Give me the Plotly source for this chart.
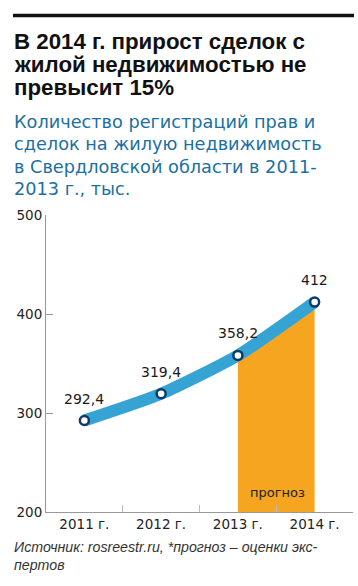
import plotly.graph_objects as go

years = ["2011 г.", "2012 г.", "2013 г.", "2014 г."]
values = [292.4, 319.4, 358.2, 412]
labels = ["292,4", "319,4", "358,2", "412"]
forecast_x = ["2013 г.", "2014 г."]
forecast_y = [358.2, 412]
y_ticks = [200, 300, 400, 500]

title_lines = ["В 2014 г. прирост сделок с", "жилой недвижимостью не", "превысит 15%"]
subtitle_lines = ["Количество регистраций прав и", "сделок на жилую недвижимость",
                  "в Свердловской области в 2011-", "2013 г., тыс."]
footer_lines = ["Источник: rosreestr.ru, *прогноз – оценки экс-", "пертов"]

W, H = 358, 586
ML, MR, MT, MB = 46, 5, 215, 74
PH = H - MT - MB
PW = W - ML - MR

def py(p):
    return (H - MB - p) / PH

def px(p):
    return (p - ML) / PW

FONT = "DejaVu Sans"
FONT2 = "Liberation Sans"

fig = go.Figure()
fig.add_trace(go.Scatter(
    x=forecast_x, y=forecast_y, mode="lines", fill="tozeroy",
    line=dict(width=0, color="#f5a51f"), fillcolor="#f5a51f", hoverinfo="skip"))
fig.add_trace(go.Scatter(
    x=years, y=values, mode="lines+markers",
    line=dict(color="#35a3d4", width=12, shape="spline", smoothing=0.6),
    marker=dict(size=9, color="white", line=dict(color="#0d3b62", width=2.5)),
    cliponaxis=False))

annotations = []
for xv, yv, lab in zip(years, values, labels):
    annotations.append(dict(text=lab, x=xv, y=yv, xref="x", yref="y", yshift=22,
                            xanchor="center", yanchor="middle", showarrow=False,
                            font=dict(family=FONT, size=14, color="#1a1a1a")))
for i, t in enumerate(title_lines):
    annotations.append(dict(text="<b>" + t + "</b>", x=px(12), y=py(41 + 23 * i),
                            xref="paper", yref="paper", xanchor="left", yanchor="middle",
                            showarrow=False, font=dict(family=FONT2, size=22.3, color="#111")))
for i, t in enumerate(subtitle_lines):
    annotations.append(dict(text=t, x=px(12), y=py(122 + 22.3 * i),
                            xref="paper", yref="paper", xanchor="left", yanchor="middle",
                            showarrow=False, font=dict(family=FONT, size=17.7, color="#1b6fa3")))
for i, t in enumerate(footer_lines):
    annotations.append(dict(text="<i>" + t + "</i>", x=px(12), y=py(547 + 18 * i),
                            xref="paper", yref="paper", xanchor="left", yanchor="middle",
                            showarrow=False, font=dict(family=FONT2, size=14.2, color="#333")))
annotations.append(dict(text="прогноз", x=px(277), y=py(492), xref="paper", yref="paper",
                        xanchor="center", yanchor="middle", showarrow=False,
                        font=dict(family=FONT, size=13, color="#222")))

fig.update_layout(
    width=W, height=H, margin=dict(l=ML, r=MR, t=MT, b=MB),
    paper_bgcolor="white", plot_bgcolor="white", showlegend=False,
    annotations=annotations,
    shapes=[dict(type="line", xref="paper", yref="paper", x0=px(13), x1=px(354),
                 y0=py(15.5), y1=py(15.5), line=dict(color="#111", width=3.5))],
    xaxis=dict(type="category", categoryorder="array", categoryarray=years,
               range=[-0.5, 3.5], showgrid=False, showline=True, linecolor="#999",
               linewidth=1, ticks="inside", tickson="boundaries", ticklen=7,
               tickcolor="#bbb", tickfont=dict(family=FONT, size=13.5, color="#222"),
               zeroline=False),
    yaxis=dict(range=[200, 500], tickvals=y_ticks, showgrid=False, showline=True,
               linecolor="#999", linewidth=1, ticks="inside", ticklen=7, tickcolor="#999",
               tickfont=dict(family=FONT, size=13.5, color="#222"), zeroline=False),
)
fig.write_html("out.html", config={"displayModeBar": False},
               post_script="document.body.style.margin='0';")
